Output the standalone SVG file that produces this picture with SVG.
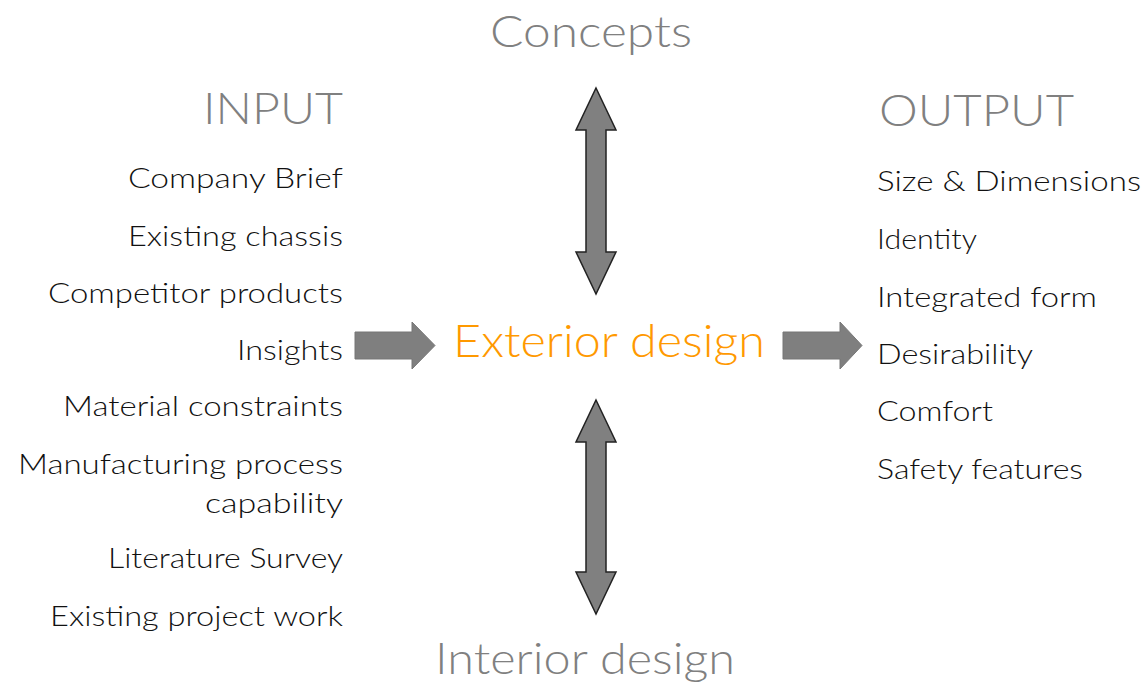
<svg xmlns="http://www.w3.org/2000/svg" width="1148" height="688" viewBox="0 0 1148 688">
<style>
text{font-family:"Lato","Noto Sans","DejaVu Sans",sans-serif;font-weight:300}
.head{fill:#808080;font-size:44px}
.item{fill:#111;font-size:28px}
.r{text-anchor:end}
.main{fill:#FF9900;font-size:46px}
.varrow{fill:#808080;stroke:#222;stroke-width:1.5;stroke-linejoin:miter}
.harrow{fill:#7f7f7f;stroke:#777;stroke-width:1}
</style>
<rect width="1148" height="688" fill="#fff"/>
<g id="connectors">
<polygon class="varrow" points="596,88 616,130 606,130 606,252 616,252 596,294 576,252 586,252 586,130 576,130"/>
<polygon class="varrow" points="596,400 616,442 606,442 606,572 616,572 596,614 576,572 586,572 586,442 576,442"/>
<polygon class="harrow" points="355,332 412,332 412,322 435,345.5 412,369 412,359 355,359"/>
<polygon class="harrow" points="783,332 840,332 840,322 862,345.5 840,369 840,359 783,359"/>
</g>
<g id="concepts"><text class="head" x="490" y="47" textLength="202" lengthAdjust="spacingAndGlyphs">Concepts</text></g>
<g id="interior"><text class="head" x="435" y="674" textLength="300" lengthAdjust="spacingAndGlyphs">Interior design</text></g>
<g id="exterior"><text class="main" x="453" y="357" textLength="312" lengthAdjust="spacingAndGlyphs">Exterior design</text></g>
<g id="input">
<text class="head" x="203" y="124" textLength="140" lengthAdjust="spacingAndGlyphs">INPUT</text>
<text class="item" x="128" y="188" textLength="215" lengthAdjust="spacingAndGlyphs">Company Brief</text>
<text class="item" x="128" y="246" textLength="215" lengthAdjust="spacingAndGlyphs">Existing chassis</text>
<text class="item" x="48" y="303" textLength="295" lengthAdjust="spacingAndGlyphs">Competitor products</text>
<text class="item" x="237" y="360" textLength="106" lengthAdjust="spacingAndGlyphs">Insights</text>
<text class="item" x="63" y="416" textLength="280" lengthAdjust="spacingAndGlyphs">Material constraints</text>
<text class="item" x="18" y="474" textLength="325" lengthAdjust="spacingAndGlyphs">Manufacturing process</text>
<text class="item" x="205" y="513" textLength="138" lengthAdjust="spacingAndGlyphs">capability</text>
<text class="item" x="108" y="568" textLength="235" lengthAdjust="spacingAndGlyphs">Literature Survey</text>
<text class="item" x="50" y="626" textLength="293" lengthAdjust="spacingAndGlyphs">Existing project work</text>
</g>
<g id="output">
<text class="head" x="879" y="126" textLength="195" lengthAdjust="spacingAndGlyphs">OUTPUT</text>
<text class="item" x="877" y="191" textLength="264" lengthAdjust="spacingAndGlyphs">Size &amp; Dimensions</text>
<text class="item" x="877" y="249" textLength="100" lengthAdjust="spacingAndGlyphs">Identity</text>
<text class="item" x="877" y="307" textLength="220" lengthAdjust="spacingAndGlyphs">Integrated form</text>
<text class="item" x="877" y="364" textLength="156" lengthAdjust="spacingAndGlyphs">Desirability</text>
<text class="item" x="877" y="421" textLength="116" lengthAdjust="spacingAndGlyphs">Comfort</text>
<text class="item" x="877" y="479" textLength="206" lengthAdjust="spacingAndGlyphs">Safety features</text>
</g>
</svg>
